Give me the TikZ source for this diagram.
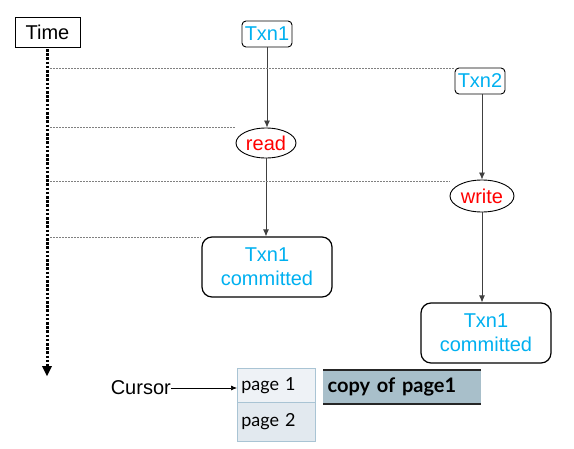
\documentclass[tikz,border=0pt]{standalone}
\usepackage{fontspec}
\setmainfont{Liberation Sans}
\newfontfamily\gillfont{Lato}
\usetikzlibrary{arrows.meta,shapes.geometric}
\definecolor{txnblue}{HTML}{00B0F0}
\definecolor{pageA}{HTML}{EEF2F6}
\definecolor{pageB}{HTML}{E2E9EF}
\definecolor{pageedge}{HTML}{A9C4D4}
\definecolor{barfill}{HTML}{A8BFCA}
\definecolor{linegray}{HTML}{404040}
\begin{document}
\begin{tikzpicture}[x=1pt,y=-1pt,
  every node/.style={font=\fontsize{20}{22}\selectfont, inner sep=0pt},
  txnbox/.style={draw, rounded corners=4pt, line width=0.9pt, text=txnblue, minimum width=50pt, minimum height=26pt},
  commitbox/.style={draw, rounded corners=10pt, line width=1.2pt, text=txnblue, minimum width=130pt, minimum height=60pt, align=center},
  opnode/.style={draw, ellipse, line width=0.9pt, text=red, minimum width=60pt, minimum height=30pt},
  flow/.style={draw=linegray, line width=0.8pt, -{Latex[length=7pt,width=6pt]}},
  guide/.style={draw=gray, line width=0.5pt, dash pattern=on 2pt off 1pt},
  pagecell/.style={draw=pageedge, line width=0.8pt, minimum width=78pt, text width=70pt, align=left, font=\gillfont\fontsize{18}{20}\selectfont, anchor=north west}]
\useasboundingbox (0,0) rectangle (574,448);
% time axis
\node[draw, line width=0.8pt, minimum width=65pt, minimum height=30pt] (time) at (47.5,32) {Time};
\coordinate (tstart) at (47,49);
\draw[line width=3pt, dash pattern=on 2.5pt off 1.7pt] (tstart) -- (47,367);
\fill (42,366) -- (52,366) -- (47,376) -- cycle;
% transactions
\node[txnbox] (t1) at (267,34) {Txn1};
\node[txnbox] (t2) at (480,81) {Txn2};
\node[opnode] (read) at (266,143) {read};
\node[opnode, minimum width=64pt, minimum height=32pt] (write) at (482,196) {write};
\node[commitbox] (c1) at (267,267) {Txn1\\[2pt]committed};
\node[commitbox] (c2) at (486,333) {Txn1\\[2pt]committed};
% flows
\draw[flow] (t1.south) -- (t1.south |- read.north);
\draw[flow] (read.south) -- (read.south |- c1.north);
\draw[flow] (t2.south -| write.north) -- (write.north);
\draw[flow] (write.south) -- (write.south |- c2.north);
% guides
\coordinate (g1) at (50,68);
\coordinate (g2) at (50,127);
\coordinate (g3) at (50,181);
\coordinate (g4) at (50,237);
\draw[guide] (g1) -- (g1 -| t2.west);
\draw[guide] (g2) -- (g2 -| read.west);
\draw[guide] (g3) -- (g3 -| write.west);
\draw[guide] (g4) -- (g4 -| c1.west);
% pages
\node[pagecell, fill=pageA, minimum height=34pt] (p1) at (237,368) {page 1};
\node[pagecell, fill=pageB, minimum height=39pt] (p2) at (237,402) {page 2};
\node[anchor=east] (cursor) at (171,388) {Cursor};
\draw[line width=0.7pt, -{Latex[length=6pt,width=5pt]}] (cursor.east) -- (cursor.east -| p1.west);
\node[fill=barfill, minimum width=158pt, minimum height=34pt, anchor=north west, font=\gillfont\bfseries\fontsize{20}{22}\selectfont, text width=149pt, align=left] (copy) at (323,370) {copy of page1};
\draw[line width=2pt, draw=black!85] (copy.north west) -- (copy.north east);
\draw[line width=2pt, draw=black!85] (copy.south west) -- (copy.south east);
\end{tikzpicture}
\end{document}
